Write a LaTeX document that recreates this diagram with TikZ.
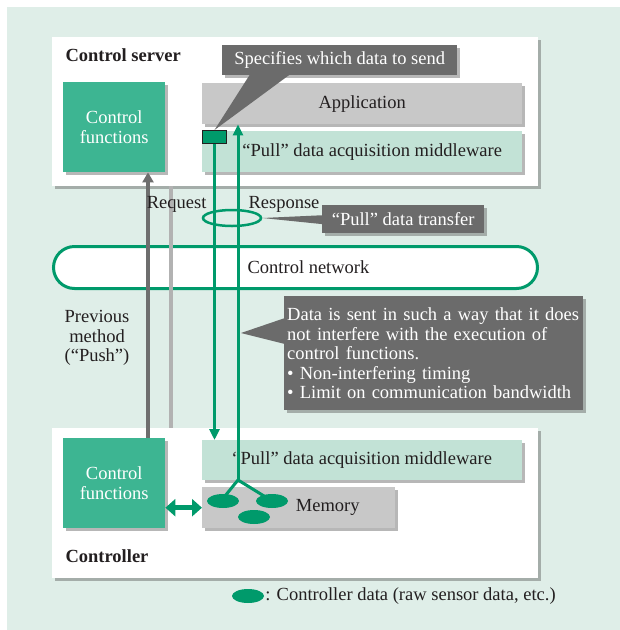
\documentclass[tikz,border=0pt]{standalone}
\usepackage{fontspec}
\setmainfont{Liberation Serif}
\usetikzlibrary{shapes.geometric,shadows,arrows.meta,calc}

\definecolor{bgMint}{HTML}{DFEEE8}
\definecolor{fnTeal}{HTML}{3DB592}
\definecolor{lnGreen}{HTML}{009A6B}
\definecolor{noteGray}{HTML}{6B6B6B}
\definecolor{appGray}{HTML}{C8C8C8}
\definecolor{mwMint}{HTML}{C2E2D6}
\definecolor{inkDark}{HTML}{231F20}

\begin{document}
\begin{tikzpicture}[
    x=1pt, y=-1pt,
    every node/.style={font=\fontsize{18.5}{19.5}\selectfont, text=inkDark},
    shBox/.style={drop shadow={shadow xshift=2.5pt, shadow yshift=-2.5pt, fill=black!70, opacity=0.4}},
    panel/.style={rectangle, fill=white, shBox, anchor=north west, inner sep=0pt},
    fnBox/.style={rectangle, fill=fnTeal, shBox, anchor=north west, minimum width=102, minimum height=90, align=center, text=white},
    layerBox/.style={rectangle, shBox, anchor=north west, minimum width=320, minimum height=41},
    noteBox/.style={rectangle, fill=noteGray, text=white, shBox, anchor=north west, inner sep=0pt},
    datum/.style={ellipse, fill=lnGreen, minimum width=32, minimum height=14, inner sep=0pt},
    boldLbl/.style={anchor=base west, font=\fontsize{18.5}{19.5}\selectfont\bfseries},
    gLine/.style={draw=lnGreen, line width=3pt},
    gArrow/.style={gLine, -{Triangle[width=10pt, length=11pt]}}
]
    \fill[bgMint] (7,7) rectangle (620,630);
    \useasboundingbox (0,0) rectangle (620,630);

    % control server
    \node[panel, minimum width=486, minimum height=149] (server) at (52,37) {};
    \node[boldLbl] (serverLbl) at (62,61) {Control server};
    \node[fnBox] (srvFn) at (63,82) {Control\\functions};
    \node[layerBox, fill=appGray] (app) at (202,83) {Application};
    \node[layerBox, fill=mwMint] (srvMw) at (202,131) {\hspace*{20pt}“Pull” data acquisition middleware};
    \node[rectangle, draw=inkDark, fill=lnGreen, line width=1pt, minimum width=24, minimum height=13,
          anchor=north west, inner sep=0pt] (flag) at (202,130) {};

    % controller
    \node[panel, minimum width=486, minimum height=150] (ctrl) at (52,428) {};
    \node[boldLbl] (ctrlLbl) at (62,562) {Controller};
    \node[fnBox] (ctrlFn) at (63,438) {Control\\functions};
    \node[layerBox, fill=mwMint, minimum height=40] (ctrlMw) at (202,440) {“Pull” data acquisition middleware};
    \node[layerBox, fill=appGray, minimum width=193] (memory) at (202,487) {\hspace*{58pt}Memory};

    % network
    \node[rectangle, rounded corners=21pt, draw=lnGreen, line width=3pt, fill=white,
          minimum width=484, minimum height=42, anchor=north west] (net) at (52,245) {\hspace*{26pt}Control network};

    % old push path
    \coordinate (pushFoot) at (148,438);
    \coordinate (reqTop) at (171,186);
    \draw[line width=4pt, draw=black!57, -{Triangle[width=11pt, length=10pt]}] (pushFoot) -- (pushFoot |- srvFn.south);
    \draw[line width=3.5pt, draw=black!30] (reqTop) -- (reqTop |- ctrl.north);

    % pull path
    \coordinate (branch) at (238,480);
    \draw[gArrow] (flag.south) -- (flag.south |- ctrlMw.north);
    \draw[gArrow] (branch) -- (branch |- app.south);
    \draw[gLine] (branch) -- ($(branch)+(-13,16)$);
    \draw[gLine] (branch) -- ($(branch)+(26,16)$);
    \node[datum] (memA) at (223,501) {};
    \node[datum] (memB) at (272,501) {};
    \node[datum] (memC) at (254,517) {};
    \draw[lnGreen, line width=5pt, {Triangle[width=17pt, length=10pt]}-{Triangle[width=17pt, length=10pt]}]
        (ctrlFn.east |- memory.west) -- (memory.west);

    \node[ellipse, draw=lnGreen, line width=2.5pt, minimum width=58, minimum height=16, inner sep=0pt] (xfer) at (232,218) {};
    \node[anchor=base east] (reqLbl) at (210,208) {Request};
    \node[anchor=base west] (resLbl) at (245,208) {Response};
    \node[align=center] (pushLbl) at (97,338) {Previous\\method\\(“Push”)};

    % callouts
    \node[noteBox, minimum width=235, minimum height=30] (specNote) at (222,45) {Specifies which data to send};
    \fill[noteGray] ($(specNote.south west)+(28,-1)$) -- ($(specNote.south west)+(68,-1)$) -- (flag.north) -- cycle;

    \node[noteBox, minimum width=162, minimum height=28] (xferNote) at (322,205) {“Pull” data transfer};
    \fill[noteGray] (xfer.east) -- ($(xferNote.west)+(1,-4)$) -- ($(xferNote.west)+(1,5)$) -- cycle;

    \coordinate (dataTip) at (241,333);
    \node[noteBox, minimum width=299, minimum height=114, text width=293, inner xsep=3pt, align=left] (dataNote) at (284,296)
        {Data is sent in such a way that it does\\not interfere with the execution of\\control functions.\\• Non-interfering timing\\• Limit on communication bandwidth};
    \fill[noteGray] ($(dataNote.north west)+(1,22)$) -- (dataTip) -- ($(dataNote.north west)+(1,48)$) -- cycle;

    % legend
    \node[datum] (legDatum) at (248,596) {};
    \node[anchor=west, inner xsep=1pt] (legLbl) at (legDatum.east) {: Controller data (raw sensor data, etc.)};
\end{tikzpicture}
\end{document}
